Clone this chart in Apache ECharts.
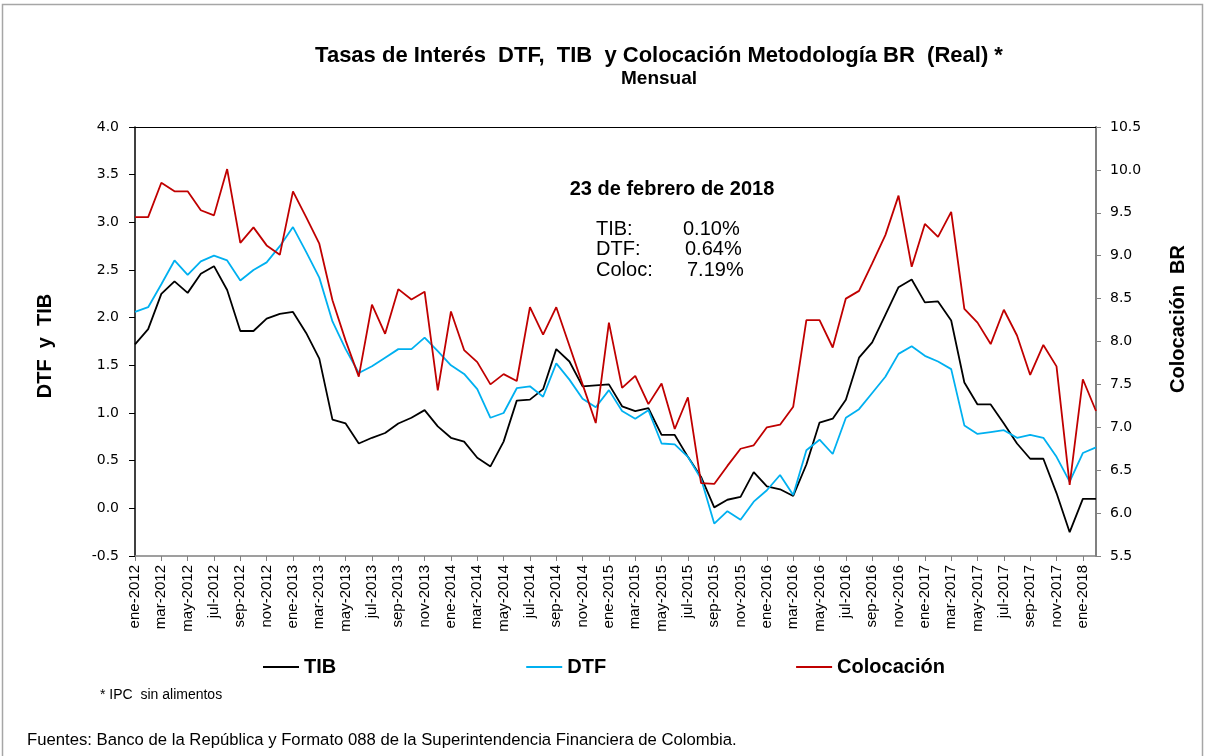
<!DOCTYPE html>
<html>
<head>
<meta charset="utf-8">
<script src="https://cdn.jsdelivr.net/npm/echarts@6/dist/echarts.min.js"></script>
<style>
  html, body { margin: 0; padding: 0; background: #fff; }
  #chart { width: 1208px; height: 756px; }
</style>
</head>
<body>
<div id="chart"></div>
<script>
// ---------------- data ----------------
let mesNombres = ['ene','feb','mar','abr','may','jun','jul','ago','sep','oct','nov','dic'];
let meses = [];
for (let y = 2012; y <= 2018; y++) {
  for (let m = 0; m < 12; m++) {
    if (y == 2018 && m > 1) break;
    meses.push(mesNombres[m] + '-' + y);
  }
}

let tib = [1.72,1.88,2.25,2.38,2.26,2.46,2.54,2.29,1.86,1.86,1.99,2.04,
           2.06,1.84,1.57,0.93,0.89,0.68,0.74,0.79,0.89,0.95,1.03,0.86,
           0.74,0.70,0.53,0.44,0.70,1.13,1.14,1.25,1.67,1.54,1.28,1.29,
           1.30,1.07,1.02,1.05,0.77,0.77,0.54,0.33,0.01,0.09,0.12,0.38,
           0.23,0.20,0.13,0.46,0.90,0.94,1.14,1.58,1.74,2.03,2.32,2.40,
           2.16,2.17,1.97,1.32,1.09,1.09,0.89,0.68,0.52,0.52,0.16,-0.25,
           0.10,0.10];

let dtf = [2.06,2.11,2.35,2.60,2.45,2.59,2.65,2.60,2.39,2.50,2.58,2.75,
           2.95,2.69,2.42,1.96,1.67,1.42,1.49,1.58,1.67,1.67,1.79,1.65,
           1.50,1.41,1.25,0.95,1.00,1.26,1.28,1.17,1.52,1.35,1.15,1.06,
           1.24,1.02,0.94,1.03,0.68,0.67,0.54,0.31,-0.16,-0.03,-0.12,0.07,
           0.19,0.35,0.14,0.61,0.72,0.57,0.95,1.04,1.21,1.38,1.62,1.70,
           1.60,1.54,1.46,0.87,0.78,0.80,0.82,0.74,0.77,0.74,0.54,0.28,
           0.58,0.64];

let colocacion = [9.45,9.45,9.85,9.75,9.75,9.53,9.47,10.01,9.15,9.33,9.12,9.01,
                  9.75,9.45,9.14,8.48,8.01,7.59,8.43,8.09,8.61,8.49,8.58,7.43,
                  8.35,7.90,7.76,7.50,7.62,7.54,8.40,8.08,8.40,7.95,7.50,7.05,
                  8.22,7.46,7.60,7.27,7.51,6.98,7.35,6.35,6.34,6.55,6.75,6.79,
                  7.00,7.03,7.24,8.25,8.25,7.93,8.50,8.59,8.91,9.24,9.70,8.87,
                  9.37,9.22,9.51,8.38,8.22,7.97,8.37,8.07,7.61,7.96,7.71,6.33,
                  7.56,7.19];

let ultimoDato = ['TIB:', '0.10%', 'DTF:', '0.64%', 'Coloc:', '7.19%'];

// ---------------- chart ----------------
let myChart = echarts.init(document.getElementById('chart'));

function txt(x, y, text, font, align, rot) {
  return {
    type: 'text', x: x, y: y, rotation: rot || 0,
    style: { text: text, font: font, fill: '#000', align: align || 'center', verticalAlign: 'middle' }
  };
}

option = {
  animation: false,
  backgroundColor: '#fff',
  grid: { left: 135, right: 112, top: 127, bottom: 200 },
  legend: {
    data: ['TIB', 'DTF', 'Colocación'],
    left: 258,
    top: 652,
    icon: 'rect',
    itemWidth: 36,
    itemHeight: 2,
    itemGap: 190,
    textStyle: { fontFamily: 'Liberation Sans', fontWeight: 'bold', fontSize: 20, color: '#000' }
  },
  xAxis: [
    {
      type: 'category',
      boundaryGap: false,
      data: meses,
      axisLine: { onZero: false, lineStyle: { color: '#808080', width: 1.5 } },
      axisTick: { interval: 1, length: 5, lineStyle: { color: '#808080' } },
      axisLabel: {
        interval: 1, rotate: 90, margin: 9,
        fontFamily: 'Liberation Sans', fontSize: 15, color: '#000'
      }
    },
    {
      type: 'category',
      position: 'top',
      boundaryGap: false,
      data: meses,
      axisLine: { onZero: false, lineStyle: { color: '#000', width: 1.2 } },
      axisTick: { show: false },
      axisLabel: { show: false }
    }
  ],
  yAxis: [
    {
      type: 'value',
      min: -0.5, max: 4.0, interval: 0.5,
      axisLine: { show: true, lineStyle: { color: '#000', width: 1.5 } },
      axisTick: { show: true, length: 6, lineStyle: { color: '#000' } },
      splitLine: { show: false },
      axisLabel: {
        margin: 16, fontFamily: 'DejaVu Sans', fontSize: 14, color: '#000',
        formatter: function (v) { return v.toFixed(1); }
      }
    },
    {
      type: 'value',
      position: 'right',
      min: 5.5, max: 10.5, interval: 0.5,
      axisLine: { show: true, lineStyle: { color: '#808080', width: 2 } },
      axisTick: { show: true, length: 5, lineStyle: { color: '#808080' } },
      splitLine: { show: false },
      axisLabel: {
        margin: 14, fontFamily: 'DejaVu Sans', fontSize: 14, color: '#000',
        formatter: function (v) { return v.toFixed(1); }
      }
    }
  ],
  series: [
    {
      name: 'TIB', type: 'line', yAxisIndex: 0, data: tib,
      symbol: 'none', color: '#000000', lineStyle: { width: 1.8 }
    },
    {
      name: 'DTF', type: 'line', yAxisIndex: 0, data: dtf,
      symbol: 'none', color: '#00B0F0', lineStyle: { width: 1.8 }
    },
    {
      name: 'Colocación', type: 'line', yAxisIndex: 1, data: colocacion,
      symbol: 'none', color: '#C00000', lineStyle: { width: 1.8 }
    }
  ],
  graphic: [
    { type: 'rect', shape: { x: 2.5, y: 4.5, width: 1200, height: 760 },
      style: { fill: null, stroke: '#a6a6a6', lineWidth: 1.5 }, silent: true },
    txt(659, 56, 'Tasas de Interés  DTF,  TIB  y Colocación Metodología BR  (Real) *', 'bold 22px "Liberation Sans"'),
    txt(659, 79, 'Mensual', 'bold 19px "Liberation Sans"'),
    txt(672, 189, '23 de febrero de 2018', 'bold 20px "Liberation Sans"'),
    txt(596, 229, ultimoDato[0], '20px "Liberation Sans"', 'left'),
    txt(683, 229, ultimoDato[1], '20px "Liberation Sans"', 'left'),
    txt(596, 249, ultimoDato[2], '20px "Liberation Sans"', 'left'),
    txt(685, 249, ultimoDato[3], '20px "Liberation Sans"', 'left'),
    txt(596, 270, ultimoDato[4], '20px "Liberation Sans"', 'left'),
    txt(687, 270, ultimoDato[5], '20px "Liberation Sans"', 'left'),
    txt(45, 346, 'DTF  y  TIB', 'bold 20px "Liberation Sans"', 'center', Math.PI / 2),
    txt(1178, 319, 'Colocación  BR', 'bold 20px "Liberation Sans"', 'center', Math.PI / 2),
    txt(100, 695, '* IPC  sin alimentos', '14px "Liberation Sans"', 'left'),
    txt(27, 740, 'Fuentes: Banco de la República y Formato 088 de la Superintendencia Financiera de Colombia.', '16.7px "Liberation Sans"', 'left')
  ]
};

myChart.setOption(option);
</script>
</body>
</html>
